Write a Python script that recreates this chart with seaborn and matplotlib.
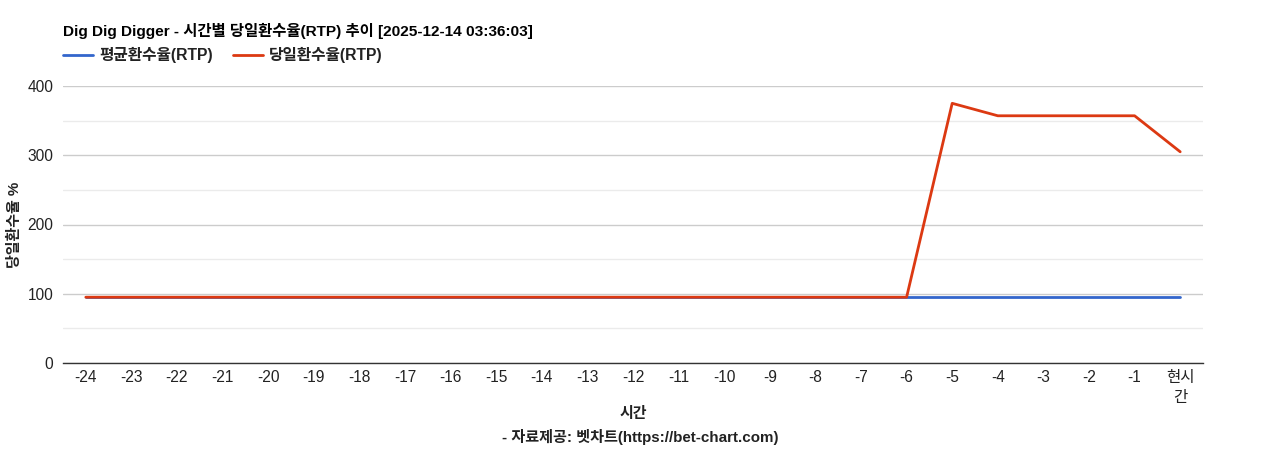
import pandas as pd
import numpy as np
import seaborn as sns
import matplotlib.pyplot as plt

# chart values
hours = ['-24', '-23', '-22', '-21', '-20', '-19', '-18', '-17', '-16', '-15', '-14', '-13',
         '-12', '-11', '-10', '-9', '-8', '-7', '-6', '-5', '-4', '-3', '-2', '-1', '현시\n간']
avg_rtp = [95] * 25
day_rtp = [95, 95, 95, 95, 95, 95, 95, 95, 95, 95, 95, 95,
           95, 95, 95, 95, 95, 95, 95, 375, 357, 357, 357, 357, 305]
series_names = ['평균환수율(RTP)', '당일환수율(RTP)']
colors = ['#3366cc', '#dc3912']

sns.set_theme(style='white')
plt.rcParams['font.family'] = ['Liberation Sans', 'Noto Sans CJK KR', 'DejaVu Sans']

df = pd.DataFrame({
    'pos': list(range(len(hours))) * 2,
    'value': avg_rtp + day_rtp,
    'series': [series_names[0]] * len(hours) + [series_names[1]] * len(hours),
})

fig = plt.figure(figsize=(12.68, 4.5), dpi=100)
ax = fig.add_axes([63 / 1268, 1 - 363 / 450, 1140 / 1268, 277 / 450])

sns.lineplot(data=df, x='pos', y='value', hue='series', palette=colors,
             linewidth=2, ax=ax, legend=False, zorder=3)

ax.set_xlim(-0.5, len(hours) - 0.5)
ax.set_ylim(0, 400)
ax.set_yticks([0, 100, 200, 300, 400])
ax.set_yticks([50, 150, 250, 350], minor=True)
ax.grid(axis='y', which='major', color='#cccccc', linewidth=1)
ax.grid(axis='y', which='minor', color='#ebebeb', linewidth=1)
ax.set_axisbelow(True)
for s in ['top', 'right', 'left']:
    ax.spines[s].set_visible(False)
ax.spines['bottom'].set_color('#333333')
ax.spines['bottom'].set_linewidth(1)
ax.set_xticks(range(len(hours)))
ax.set_xticklabels(hours, fontsize=11.2, color='#222222', linespacing=1.45)
ax.tick_params(axis='y', labelsize=11.2, colors='#222222', length=0, pad=7)
ax.tick_params(axis='x', length=0, pad=5)
ax.set_xlabel('')
ax.set_ylabel('')

fig.text(63 / 1268, 1 - 31 / 450, 'Dig Dig Digger - 시간별 당일환수율(RTP) 추이 [2025-12-14 03:36:03]',
         fontsize=11.1, fontweight='bold', va='center', ha='left', color='#000000')

# legend drawn by hand to sit at the top left
for i, name in enumerate(series_names):
    x0 = [63, 233][i]
    fig.add_artist(plt.Line2D([x0 / 1268, (x0 + 30) / 1268], [1 - 55 / 450] * 2,
                              color=colors[i], linewidth=2))
    fig.text((x0 + 36) / 1268, 1 - 55 / 450, name, fontsize=11.3, fontweight='bold',
             va='center', ha='left', color='#222222')

fig.text(15 / 1268, 1 - 225 / 450, '당일환수율 %', rotation=90, fontsize=10.8,
         fontweight='bold', va='center', ha='center', color='#222222')
fig.text(633 / 1268, 1 - 414 / 450, '시간', fontsize=10.8, fontweight='bold',
         va='center', ha='center', color='#222222')
fig.text(640 / 1268, 1 - 437 / 450, '- 자료제공: 벳차트(https://bet-chart.com)', fontsize=10.9,
         fontweight='bold', va='center', ha='center', color='#222222')

fig.savefig('out.png', dpi=100)
